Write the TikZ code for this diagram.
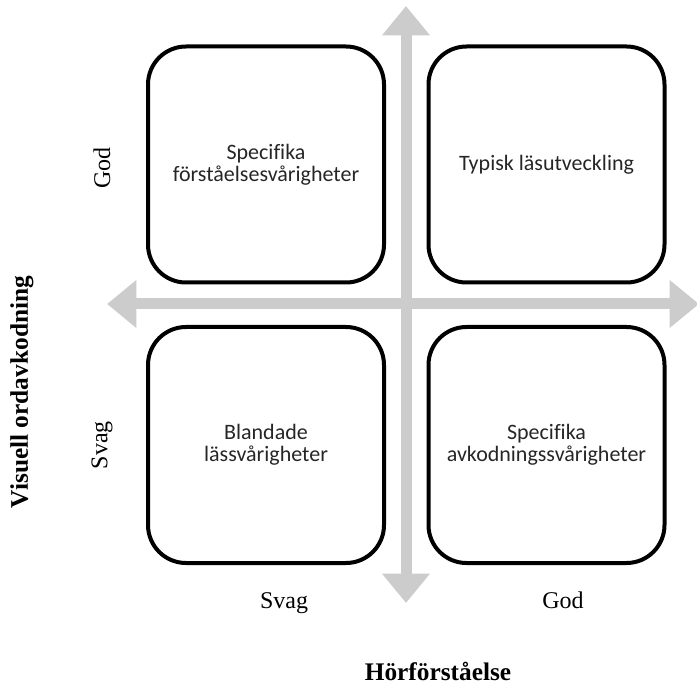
\documentclass[tikz,border=0pt]{standalone}
\usepackage{fontspec}
\setmainfont{Liberation Serif}
\newfontfamily\boxfont[Ligatures=NoCommon]{Carlito}
\usetikzlibrary{arrows.meta}
\definecolor{axisgray}{RGB}{204,204,204}
\definecolor{boxtext}{RGB}{38,38,38}
\begin{document}
\begin{tikzpicture}[x=0.75pt, y=-0.75pt, line join=round,
    quad/.style={draw, line width=3pt, rounded corners=28.5pt, minimum width=177pt, minimum height=177pt,
      inner sep=0pt, align=center, text=boxtext, font=\boxfont\fontsize{16.5}{16.5}\selectfont},
    level/.style={font=\fontsize{18}{20}\selectfont},
    axlabel/.style={font=\bfseries\fontsize{19}{22}\selectfont},
    axis/.style={axisgray, line width=8.25pt,
      {Triangle[width=34.5pt,length=22pt]}-{Triangle[width=34.5pt,length=22pt]}}]
	\useasboundingbox (0,0) rectangle (697,688);
	% axis ends
	\coordinate (top) at (406,6);
	\coordinate (bottom) at (406,603);
	\coordinate (left) at (107,304);
	\coordinate (right) at (699,304);
	\draw[axis] (bottom)--(top);
	\draw[axis] (left)--(right);
	% quadrants
	\node[quad] (forst) at (266,164.5) {Specifika\\förståelsesvårigheter};
	\node[quad] (typisk) at (546.5,164.5) {Typisk läsutveckling};
	\node[quad] (bland) at (266,445) {Blandade\\lässvårigheter};
	\node[quad] (avkod) at (546.5,445) {Specifika\\avkodningssvårigheter};
	% levels
	\node[level, rotate=90] (godV) at (102,168) {God};
	\node[level, rotate=90] (svagV) at (102,445) {Svag};
	\node[level, anchor=base] (svagH) at (284,608) {Svag};
	\node[level, anchor=base] (godH) at (563,608) {God};
	% axis names
	\node[axlabel, rotate=90] (visuell) at (22,392) {Visuell ordavkodning};
	\node[axlabel] (hor) at (438,671) {Hörförståelse};
\end{tikzpicture}
\end{document}
